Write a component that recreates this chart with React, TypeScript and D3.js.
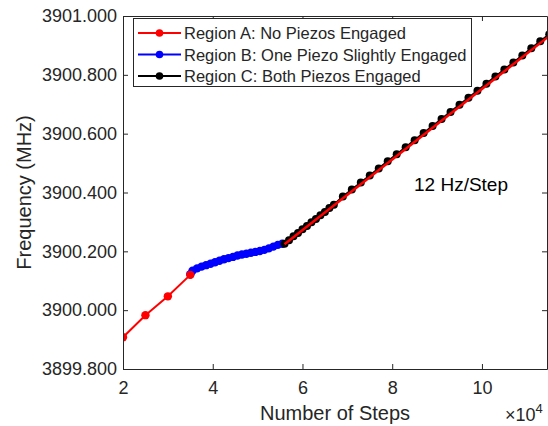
import React, { useEffect, useRef } from "react";
import * as d3 from "d3";

// steps (x1e4) and frequency (MHz)
const regionASteps = [2.0, 2.5, 3.0, 3.5];
const regionAFreq = [3899.908, 3899.983, 3900.047, 3900.12];

const regionBSteps = [
  3.5, 3.55, 3.65, 3.75, 3.85, 3.95, 4.05, 4.15, 4.25, 4.35, 4.45, 4.55, 4.65,
  4.75, 4.85, 4.95, 5.05, 5.15, 5.25, 5.35, 5.45, 5.55,
];
const regionBFreq = [
  3900.122, 3900.134, 3900.142, 3900.148, 3900.153, 3900.158, 3900.163,
  3900.168, 3900.173, 3900.177, 3900.181, 3900.186, 3900.189, 3900.192,
  3900.195, 3900.198, 3900.201, 3900.205, 3900.21, 3900.216, 3900.222,
  3900.226,
];

const regionCSteps = [
  5.6, 5.7, 5.8, 5.9, 6.0, 6.1, 6.2, 6.3, 6.4, 6.5, 6.6, 6.7, 6.9, 7.1, 7.3,
  7.5, 7.7, 7.9, 8.1, 8.3, 8.5, 8.7, 8.9, 9.1, 9.3, 9.5, 9.7, 9.9, 10.1, 10.3,
  10.5, 10.7, 10.9, 11.1, 11.3, 11.5,
];
const regionCFreq = [
  3900.226, 3900.238, 3900.251, 3900.262, 3900.275, 3900.286, 3900.299,
  3900.31, 3900.323, 3900.334, 3900.347, 3900.358, 3900.386, 3900.41,
  3900.434, 3900.458, 3900.482, 3900.506, 3900.53, 3900.554, 3900.578,
  3900.602, 3900.626, 3900.65, 3900.674, 3900.698, 3900.722, 3900.746,
  3900.77, 3900.794, 3900.818, 3900.842, 3900.866, 3900.89, 3900.914,
  3900.938,
];

// linear fit (12 Hz/Step)
const fitSteps = [5.6, 11.5];
const fitFreq = [3900.224, 3900.932];

const xTicks = [2, 4, 6, 8, 10];
const yTicks = [3899.8, 3900.0, 3900.2, 3900.4, 3900.6, 3900.8, 3901.0];

const legendLabels = [
  "Region A: No Piezos Engaged",
  "Region B: One Piezo Slightly Engaged",
  "Region C: Both Piezos Engaged",
];
const seriesColors = ["#ff0000", "#0000ff", "#000000"];

const W = 548;
const H = 426;
const FONT = "'Liberation Sans', Arial, Helvetica, sans-serif";
const AX = "#262626";

const App: React.FC = () => {
  const svgRef = useRef<SVGSVGElement>(null);

  useEffect(() => {
    const svg = d3.select(svgRef.current);
    svg.selectAll("*").remove();

    const left = 123;
    const right = 547;
    const top = 16;
    const bottom = 369;

    const x = d3.scaleLinear().domain([2, 11.45]).range([left, right]);
    const y = d3.scaleLinear().domain([3899.8, 3901.0]).range([bottom, top]);

    svg
      .append("clipPath")
      .attr("id", "plot-clip")
      .append("rect")
      .attr("x", left)
      .attr("y", top)
      .attr("width", right - left)
      .attr("height", bottom - top);

    const line = d3
      .line<[number, number]>()
      .x((d) => x(d[0]))
      .y((d) => y(d[1]));

    const series = [
      { steps: regionASteps, freq: regionAFreq, r: 4.2 },
      { steps: regionBSteps, freq: regionBFreq, r: 4.2 },
      { steps: regionCSteps, freq: regionCFreq, r: 4 },
    ];

    const plot = svg.append("g").attr("clip-path", "url(#plot-clip)");
    // draw B and C first, then A on top at the junction
    [1, 2, 0].forEach((i) => {
      const s = series[i];
      const pts = s.steps.map((v, k) => [v, s.freq[k]] as [number, number]);
      const g = plot.append("g");
      g.append("path")
        .attr("d", line(pts))
        .attr("fill", "none")
        .attr("stroke", seriesColors[i])
        .attr("stroke-width", 2);
      g.selectAll("circle")
        .data(pts)
        .join("circle")
        .attr("cx", (d) => x(d[0]))
        .attr("cy", (d) => y(d[1]))
        .attr("r", s.r)
        .attr("fill", seriesColors[i]);
    });

    const fitPts = fitSteps.map((v, k) => [v, fitFreq[k]] as [number, number]);
    plot
      .append("path")
      .attr("d", line(fitPts))
      .attr("fill", "none")
      .attr("stroke", "#ff0000")
      .attr("stroke-width", 2.5);

    // axes (ticks inside, box on)
    const styleAxis = (g: any) => {
      g.select(".domain").attr("stroke", AX).attr("stroke-width", 1);
      g.selectAll(".tick line").attr("stroke", AX);
      g.selectAll(".tick text")
        .attr("fill", AX)
        .style("font-family", FONT)
        .style("font-size", "18px");
    };

    svg
      .append("g")
      .attr("transform", `translate(0,${bottom})`)
      .call(
        d3
          .axisBottom(x)
          .tickValues(xTicks)
          .tickSizeInner(-5)
          .tickSizeOuter(0)
          .tickPadding(12)
          .tickFormat((d) => String(d)),
      )
      .call(styleAxis);

    svg
      .append("g")
      .attr("transform", `translate(0,${top})`)
      .call(
        d3
          .axisTop(x)
          .tickValues(xTicks)
          .tickSizeInner(-5)
          .tickSizeOuter(0)
          .tickFormat(() => ""),
      )
      .call(styleAxis);

    svg
      .append("g")
      .attr("transform", `translate(${left},0)`)
      .call(
        d3
          .axisLeft(y)
          .tickValues(yTicks)
          .tickSizeInner(-5)
          .tickSizeOuter(0)
          .tickPadding(6)
          .tickFormat(d3.format(".3f")),
      )
      .call(styleAxis);

    svg
      .append("g")
      .attr("transform", `translate(${right},0)`)
      .call(
        d3
          .axisRight(y)
          .tickValues(yTicks)
          .tickSizeInner(-5)
          .tickSizeOuter(0)
          .tickFormat(() => ""),
      )
      .call(styleAxis);

    // axis labels
    svg
      .append("text")
      .attr("x", (left + right) / 2)
      .attr("y", 420)
      .attr("text-anchor", "middle")
      .attr("fill", AX)
      .style("font-family", FONT)
      .style("font-size", "20px")
      .text("Number of Steps");

    svg
      .append("text")
      .attr("transform", `translate(31,${(top + bottom) / 2}) rotate(-90)`)
      .attr("text-anchor", "middle")
      .attr("fill", AX)
      .style("font-family", FONT)
      .style("font-size", "20px")
      .text("Frequency (MHz)");

    const mult = svg
      .append("text")
      .attr("x", 505)
      .attr("y", 421)
      .attr("fill", AX)
      .style("font-family", FONT)
      .style("font-size", "18px");
    mult.append("tspan").text("\u00d710");
    mult
      .append("tspan")
      .attr("dy", -8)
      .style("font-size", "13px")
      .text("4");

    svg
      .append("text")
      .attr("x", 414)
      .attr("y", 191)
      .attr("fill", "#000")
      .style("font-family", FONT)
      .style("font-size", "19px")
      .text("12 Hz/Step");

    // legend
    const lg = svg.append("g");
    lg.append("rect")
      .attr("x", 133.5)
      .attr("y", 18.5)
      .attr("width", 338)
      .attr("height", 68)
      .attr("fill", "#fff")
      .attr("stroke", AX)
      .attr("stroke-width", 1);
    legendLabels.forEach((label, i) => {
      const cy = 33 + i * 21.5;
      lg.append("line")
        .attr("x1", 138)
        .attr("x2", 181)
        .attr("y1", cy)
        .attr("y2", cy)
        .attr("stroke", seriesColors[i])
        .attr("stroke-width", 2);
      lg.append("circle")
        .attr("cx", 159.5)
        .attr("cy", cy)
        .attr("r", 3.8)
        .attr("fill", seriesColors[i]);
      lg.append("text")
        .attr("x", 184)
        .attr("y", cy + 6)
        .attr("fill", AX)
        .style("font-family", FONT)
        .style("font-size", "16.5px")
        .text(label);
    });
  }, []);

  return (
    <svg
      ref={svgRef}
      width={W}
      height={H}
      style={{ position: "absolute", left: 0, top: 0, background: "#fff" }}
    />
  );
};

export default App;
